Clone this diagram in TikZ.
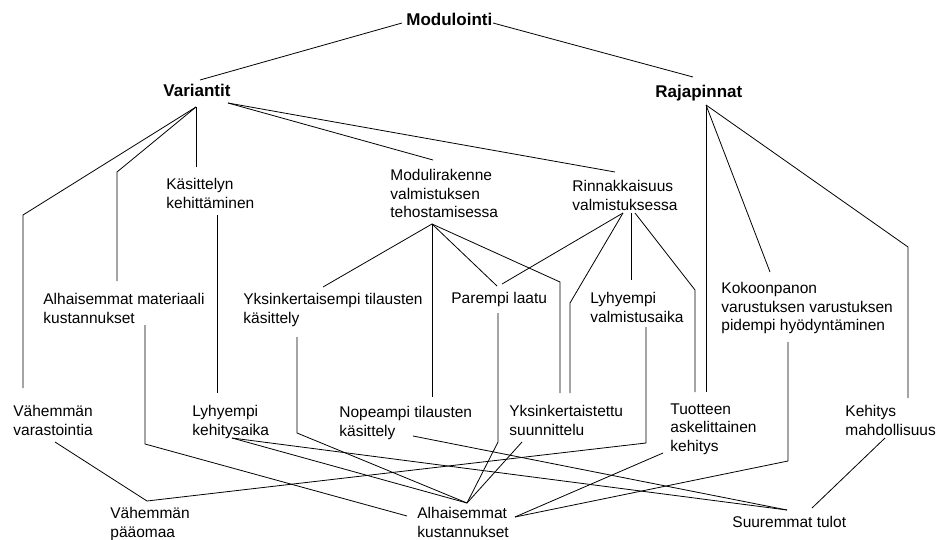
\documentclass[tikz,border=0pt]{standalone}
\usepackage{fontspec}
\setmainfont{Liberation Sans}
\usetikzlibrary{calc}
\tikzset{
  txt/.style={anchor=north west, inner sep=0pt, align=left,
    font=\fontsize{15.5}{18.5}\selectfont},
  head/.style={anchor=north west, inner sep=0pt,
    font=\fontsize{17}{20}\selectfont\bfseries},
}
\begin{document}
\begin{tikzpicture}[x=1pt, y=-1pt, line width=0.8pt]
  \useasboundingbox (0,0) rectangle (941,540);
  % top levels
  \node [head] (modul) at (406,13) {Modulointi};
  \node [head] (varia) at (163,84) {Variantit};
  \node [head] (raja) at (655,85) {Rajapinnat};
  % second row
  \node [txt] (kasit) at (166,178) {Käsittelyn\\kehittäminen};
  \node [txt] (modra) at (390,169) {Modulirakenne\\valmistuksen\\tehostamisessa};
  \node [txt] (rinn) at (572,180) {Rinnakkaisuus\\valmistuksessa};
  % third row
  \node [txt] (almat) at (43,293) {Alhaisemmat materiaali\\kustannukset};
  \node [txt] (yksti) at (243,293) {Yksinkertaisempi tilausten\\käsittely};
  \node [txt] (parla) at (451,292) {Parempi laatu};
  \node [txt] (lyhval) at (590,292) {Lyhyempi\\valmistusaika};
  \node [txt] (kokoo) at (721,282) {Kokoonpanon\\varustuksen varustuksen\\pidempi hyödyntäminen};
  % fourth row
  \node [txt] (vahvar) at (13,405) {Vähemmän\\varastointia};
  \node [txt] (lyhkeh) at (192,405) {Lyhyempi\\kehitysaika};
  \node [txt] (nopea) at (339,406) {Nopeampi tilausten\\käsittely};
  \node [txt] (yksu) at (509,405) {Yksinkertaistettu\\suunnittelu};
  \node [txt] (tuot) at (670,403) {Tuotteen\\askelittainen\\kehitys};
  \node [txt] (kehmah) at (845,405) {Kehitys\\mahdollisuus};
  % results
  \node [txt] (vahpaa) at (110,507) {Vähemmän\\pääomaa};
  \node [txt] (alkus) at (417,507) {Alhaisemmat\\kustannukset};
  \node [txt] (suur) at (732,516) {Suuremmat tulot};

  % from the top
  \draw ($(modul.north west)+(-4,10)$) -- ($(varia.north west)+(37,-4)$);
  \draw ($(modul.north west)+(87,10)$) -- ($(raja.north west)+(38,-8)$);
  % Variantit
  \draw ($(varia.north west)+(33,23)$) -- (23,215) -- ($(vahvar.north west)+(10,-17)$);
  \draw ($(varia.north west)+(33,23)$) -- (117,172) -- ($(almat.north west)+(74,-12)$);
  \draw ($(varia.north west)+(33,23)$) -- ($(kasit.north west)+(30,-11)$);
  \draw ($(varia.north west)+(65,19)$) -- ($(modra.north west)+(43,-9)$);
  \draw ($(varia.north west)+(65,19)$) -- ($(rinn.north west)+(43,-8)$);
  % Rajapinnat
  \draw ($(raja.north west)+(51,20)$) -- ($(tuot.north west)+(36,-11)$);
  \draw ($(raja.north west)+(51,20)$) -- ($(kokoo.north west)+(49,-10)$);
  \draw ($(raja.north west)+(51,20)$) -- (908,247) -- ($(kehmah.north west)+(63,-7)$);
  % second row down
  \draw ($(kasit.north west)+(51,37)$) -- ($(lyhkeh.north west)+(25,-12)$);
  \draw ($(modra.north west)+(42,55)$) -- ($(yksti.north west)+(80,-6)$);
  \draw ($(modra.north west)+(42,55)$) -- ($(nopea.north west)+(93,-9)$);
  \draw ($(modra.north west)+(42,55)$) -- ($(parla.north west)+(46,-6)$);
  \draw ($(modra.north west)+(42,55)$) -- (560,282) -- ($(yksu.north west)+(51,-12)$);
  \draw ($(rinn.north west)+(51,33)$) -- ($(parla.north west)+(51,-8)$);
  \draw ($(rinn.north west)+(51,33)$) -- (570,303) -- ($(yksu.north west)+(61,-12)$);
  \draw ($(rinn.north west)+(59,33)$) -- ($(lyhval.north west)+(41,-12)$);
  \draw ($(rinn.north west)+(63,33)$) -- (695,290) -- ($(tuot.north west)+(25,-11)$);
  % down to the results
  \draw ($(almat.north west)+(102,32)$) -- (145,444) -- ($(alkus.north west)+(-10,9)$);
  \draw ($(yksti.north west)+(54,44)$) -- (297,433) -- ($(alkus.north west)+(50,-4)$);
  \draw ($(parla.north west)+(47,21)$) -- (498,442) -- ($(alkus.north west)+(50,-4)$);
  \draw ($(lyhval.north west)+(56,35)$) -- (646,443) -- ($(vahpaa.north west)+(37,-6)$);
  \draw ($(yksu.north west)+(13,37)$) -- ($(alkus.north west)+(50,-4)$);
  \draw ($(tuot.north west)+(-7,50)$) -- ($(alkus.north west)+(98,10)$);
  \draw ($(kokoo.north west)+(67,60)$) -- (788,461) -- ($(alkus.north west)+(98,10)$);
  \draw ($(kehmah.north west)+(40,33)$) -- ($(suur.north west)+(80,-8)$);
  \draw ($(vahvar.north west)+(42,37)$) -- ($(vahpaa.north west)+(37,-6)$);
  \draw ($(lyhkeh.north west)+(40,33)$) -- ($(alkus.north west)+(50,-4)$);
  \draw ($(lyhkeh.north west)+(40,33)$) -- ($(suur.north west)+(55,-6)$);
  \draw ($(nopea.north west)+(74,30)$) -- ($(suur.north west)+(55,-6)$);
\end{tikzpicture}
\end{document}
